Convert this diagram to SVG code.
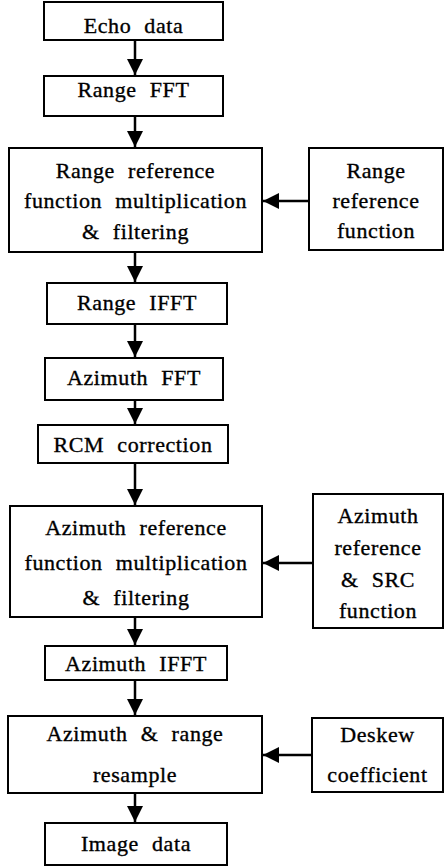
<svg xmlns="http://www.w3.org/2000/svg" width="444" height="867" viewBox="0 0 444 867">
  <style>
    .box { fill: #ffffff; stroke: #000000; stroke-width: 2; }
    .lbl { font-family: "Liberation Serif", "DejaVu Serif", serif; font-size: 22px; fill: #000000; stroke: #000000; stroke-width: 0.35px; text-anchor: middle; letter-spacing: 0.6px; word-spacing: 7px; }
    .edge { stroke: #000000; stroke-width: 2.5; fill: none; }
  </style>
  <defs>
    <marker id="arrow" viewBox="0 0 10 10" refX="10" refY="5" markerWidth="6.6" markerHeight="6.4" markerUnits="strokeWidth" orient="auto">
      <path d="M0,0 L10,5 L0,10 Z" fill="#000000"/>
    </marker>
  </defs>
  <rect width="444" height="867" fill="#ffffff"/>

  <!-- main processing chain -->
  <g id="echo-data">
    <rect class="box" x="44" y="2" width="179" height="38"/>
    <text class="lbl" x="133.5" y="33">Echo data</text>
  </g>
  <g id="range-fft">
    <rect class="box" x="44" y="76" width="179" height="40"/>
    <text class="lbl" x="133.5" y="97">Range FFT</text>
  </g>
  <g id="range-ref-mult">
    <rect class="box" x="9" y="148" width="253" height="104"/>
    <text class="lbl" x="135.5" y="178">Range reference</text>
    <text class="lbl" x="135.5" y="208">function multiplication</text>
    <text class="lbl" x="135.5" y="239">&amp; filtering</text>
  </g>
  <g id="range-ref-func">
    <rect class="box" x="309" y="148" width="134" height="102"/>
    <text class="lbl" x="376" y="178">Range</text>
    <text class="lbl" x="376" y="208">reference</text>
    <text class="lbl" x="376" y="238">function</text>
  </g>
  <g id="range-ifft">
    <rect class="box" x="47" y="283" width="180" height="41"/>
    <text class="lbl" x="137" y="310">Range IFFT</text>
  </g>
  <g id="azimuth-fft">
    <rect class="box" x="45" y="358" width="178" height="42"/>
    <text class="lbl" x="134" y="385">Azimuth FFT</text>
  </g>
  <g id="rcm-correction">
    <rect class="box" x="38" y="425" width="190" height="38"/>
    <text class="lbl" x="133" y="452">RCM correction</text>
  </g>
  <g id="azimuth-ref-mult">
    <rect class="box" x="10" y="506" width="252" height="111"/>
    <text class="lbl" x="136" y="535">Azimuth reference</text>
    <text class="lbl" x="136" y="570">function multiplication</text>
    <text class="lbl" x="136" y="605">&amp; filtering</text>
  </g>
  <g id="azimuth-ref-src">
    <rect class="box" x="313" y="494" width="130" height="134"/>
    <text class="lbl" x="378" y="523">Azimuth</text>
    <text class="lbl" x="378" y="555">reference</text>
    <text class="lbl" x="378" y="587">&amp; SRC</text>
    <text class="lbl" x="378" y="618">function</text>
  </g>
  <g id="azimuth-ifft">
    <rect class="box" x="45" y="646" width="182" height="34"/>
    <text class="lbl" x="136" y="671">Azimuth IFFT</text>
  </g>
  <g id="resample">
    <rect class="box" x="8" y="716" width="254" height="77"/>
    <text class="lbl" x="135" y="741">Azimuth &amp; range</text>
    <text class="lbl" x="135" y="782">resample</text>
  </g>
  <g id="deskew">
    <rect class="box" x="312" y="718" width="131" height="74"/>
    <text class="lbl" x="377.5" y="742">Deskew</text>
    <text class="lbl" x="377.5" y="782">coefficient</text>
  </g>
  <g id="image-data">
    <rect class="box" x="45" y="823" width="182" height="42"/>
    <text class="lbl" x="136" y="851">Image data</text>
  </g>

  <!-- connectors -->
  <g id="connectors">
    <line class="edge" x1="135" y1="40" x2="135" y2="75" marker-end="url(#arrow)"/>
    <line class="edge" x1="135" y1="116" x2="135" y2="147" marker-end="url(#arrow)"/>
    <line class="edge" x1="135" y1="252" x2="135" y2="282" marker-end="url(#arrow)"/>
    <line class="edge" x1="135" y1="324" x2="135" y2="357" marker-end="url(#arrow)"/>
    <line class="edge" x1="135" y1="400" x2="135" y2="424" marker-end="url(#arrow)"/>
    <line class="edge" x1="135" y1="463" x2="135" y2="505" marker-end="url(#arrow)"/>
    <line class="edge" x1="135" y1="617" x2="135" y2="645" marker-end="url(#arrow)"/>
    <line class="edge" x1="135" y1="680" x2="135" y2="715" marker-end="url(#arrow)"/>
    <line class="edge" x1="135" y1="793" x2="135" y2="822" marker-end="url(#arrow)"/>
    <line class="edge" x1="309" y1="201" x2="263" y2="201" marker-end="url(#arrow)"/>
    <line class="edge" x1="313" y1="563" x2="263" y2="563" marker-end="url(#arrow)"/>
    <line class="edge" x1="312" y1="755" x2="263" y2="755" marker-end="url(#arrow)"/>
  </g>
</svg>
